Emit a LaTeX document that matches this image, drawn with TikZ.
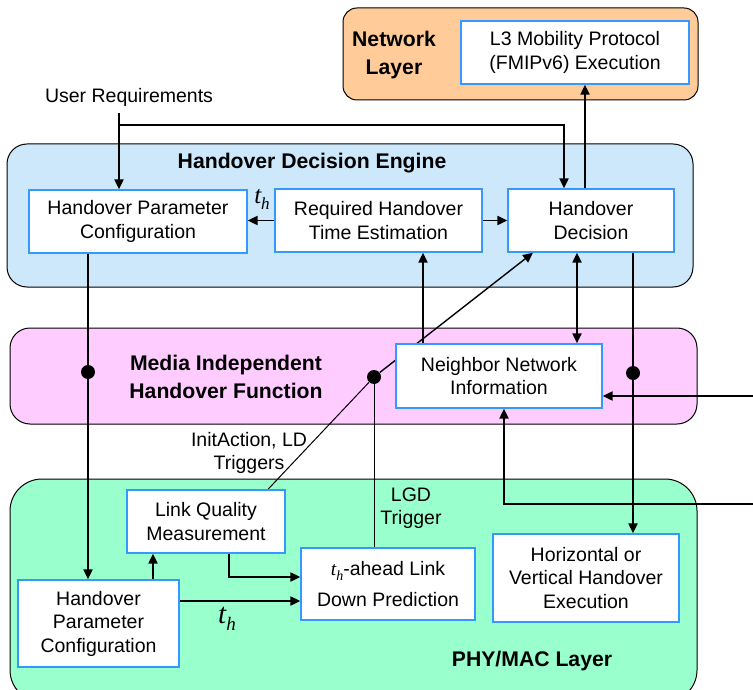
\documentclass[tikz,border=0pt]{standalone}
\usepackage{fontspec}
\setmainfont{Liberation Sans}
\newfontfamily\tms{Liberation Serif}
\usetikzlibrary{arrows.meta,fit}
\pgfdeclarelayer{bg}\pgfdeclarelayer{mid}\pgfsetlayers{bg,mid,main}
\definecolor{orangefill}{HTML}{FFCC99}
\definecolor{bluefill}{HTML}{CCE8FA}
\definecolor{pinkfill}{HTML}{FFCCFF}
\definecolor{greenfill}{HTML}{99FFCC}
\definecolor{boxblue}{HTML}{3399FF}
\begin{document}
\begin{tikzpicture}[x=0.5pt,y=-0.5pt,
  every node/.style={font=\fontsize{9.75}{11.75}\selectfont},
  box/.style={draw=boxblue, line width=0.7pt, fill=white, inner sep=0pt, align=center},
  layerbox/.style={draw=black, line width=0.5pt, inner sep=0pt},
  title/.style={font=\fontsize{10.6}{14.2}\selectfont\bfseries, align=center},
  lbl/.style={align=center},
  arr/.style={line width=0.8pt, -{Triangle[length=5pt,width=4.6pt]}},
  dblarr/.style={line width=0.8pt, {Triangle[length=5pt,width=4.6pt]}-{Triangle[length=5pt,width=4.6pt]}},
  ln/.style={line width=0.8pt},
  thinln/.style={line width=0.5pt},
  dot/.style={circle, fill=black, inner sep=0pt, minimum size=7pt}]
\useasboundingbox (0,0) rectangle (753,689);

% outer layers
\begin{pgfonlayer}{bg}
\node[layerbox, fill=orangefill, rounded corners=7pt, fit={(343,8) (698,100)}] (netlayer) {};
\node[layerbox, fill=bluefill, rounded corners=10pt, fit={(7,144) (693,287)}] (hde) {};
\node[layerbox, fill=pinkfill, rounded corners=10pt, fit={(10,328) (697,424)}] (mihf) {};
\node[layerbox, fill=greenfill, rounded corners=16pt, fit={(10,479) (697,702)}] (phy) {};
\end{pgfonlayer}

% titles
\node[title] (tnet) at (394,55) {Network\\Layer};
\node[title] (thde) at (312,163) {Handover Decision Engine};
\node[title] (tmihf) at (226,377) {Media Independent\\Handover Function};
\node[title] (tphy) at (532,661) {PHY/MAC Layer};

% inner boxes
\node[box, minimum width=114pt, minimum height=31.5pt] (l3) at (575,52.5) {L3 Mobility Protocol\\(FMIPv6) Execution};
\node[box, minimum width=109pt, minimum height=31.5pt] (hpc1) at (138,221.5) {Handover Parameter\\Configuration};
\node[box, minimum width=103.5pt, minimum height=31.5pt] (rhte) at (378.5,220.5) {Required Handover\\Time Estimation};
\node[box, minimum width=83pt, minimum height=31.5pt] (hd) at (591,220.5) {Handover\\Decision};
\node[box, minimum width=103pt, minimum height=32pt] (nni) at (499,376) {Neighbor Network\\Information};
\node[box, minimum width=79pt, minimum height=31.5pt] (lqm) at (206,521.5) {Link Quality\\Measurement};
\node[box, minimum width=80.5pt, minimum height=43.5pt] (hpc2) at (98.5,623.5) {Handover\\Parameter\\Configuration};
\node[box, minimum width=87pt, minimum height=36pt] (pred) at (388,584) {{\tms\itshape t\raisebox{-2.5pt}{\fontsize{7}{7}\selectfont h}}-ahead Link\\[4pt]Down Prediction};
\node[box, minimum width=93pt, minimum height=44pt] (hvhe) at (586,578) {Horizontal or\\Vertical Handover\\Execution};

% labels
\node (ur) at (129,97) {User Requirements};
\node (th1) at (262,199) {\fontsize{12.5}{12.5}\selectfont\tms\itshape t\raisebox{-3pt}{\fontsize{8.5}{8.5}\selectfont h}};
\node (th2) at (227,619) {\fontsize{14.5}{14.5}\selectfont\tms\itshape t\raisebox{-3.5pt}{\fontsize{9.5}{9.5}\selectfont h}};
\node[lbl] (init) at (249,453) {InitAction, LD\\Triggers};
\node[lbl] (lgd) at (411,508) {LGD\\Trigger};

% dots
\node[dot] (d1) at (88,372) {};
\node[dot] (d2) at (374,377) {};
\node[dot] (d3) at (633,373) {};

% helper coordinates
\coordinate (urj) at (119,125);
\coordinate (urk) at (564,125);
\coordinate (x585) at (585,0);
\coordinate (x423) at (423,0);
\coordinate (x577) at (577,0);
\coordinate (x153) at (153,0);
\coordinate (x229) at (229,0);
\coordinate (x268) at (268,0);
\coordinate (x533) at (533,0);
\coordinate (y601) at (0,601);
\coordinate (y577) at (0,577);
\coordinate (e1) at (760,396);
\coordinate (e2) at (760,504);
\coordinate (e2k) at (504,504);

\begin{pgfonlayer}{mid}
% user requirements
\draw[arr] (ur.south -| urj) -- (urj |- hpc1.north);
\draw[arr] (urj) -- (urk) -- (urk |- hd.north);
% engine internals
\draw[arr] (rhte.west) -- (rhte.west -| hpc1.east);
\draw[arr] (rhte.east) -- (rhte.east -| hd.west);
\draw[arr] (hd.north -| x585) -- (l3.south -| x585);
% between layers
\draw[arr] (nni.north -| x423) -- (rhte.south -| x423);
\draw[dblarr] (hd.south -| x577) -- (nni.north -| x577);
\draw[arr] (hd.south -| d3) -- (d3) -- (hvhe.north -| d3);
\draw[arr] (e1) -- (e1 -| nni.east);
\draw[arr] (e2) -- (e2k) -- (nni.south -| e2k);
\draw[arr] (hpc1.south -| d1) -- (d1) -- (hpc2.north -| d1);
% PHY internals
\draw[arr] (hpc2.north -| x153) -- (lqm.south -| x153);
\draw[arr] (hpc2.east |- y601) -- (pred.west |- y601);
\draw[arr] (lqm.south -| x229) |- (pred.west |- y577);
% triggers
\draw[thinln] (lqm.north -| x268) -- (d2);
\draw[thinln] (pred.north -| d2) -- (d2);
\draw[line width=0.7pt, -{Triangle[length=5pt,width=4.6pt]}] (d2) -- (hd.south -| x533);
\end{pgfonlayer}
\end{tikzpicture}
\end{document}
